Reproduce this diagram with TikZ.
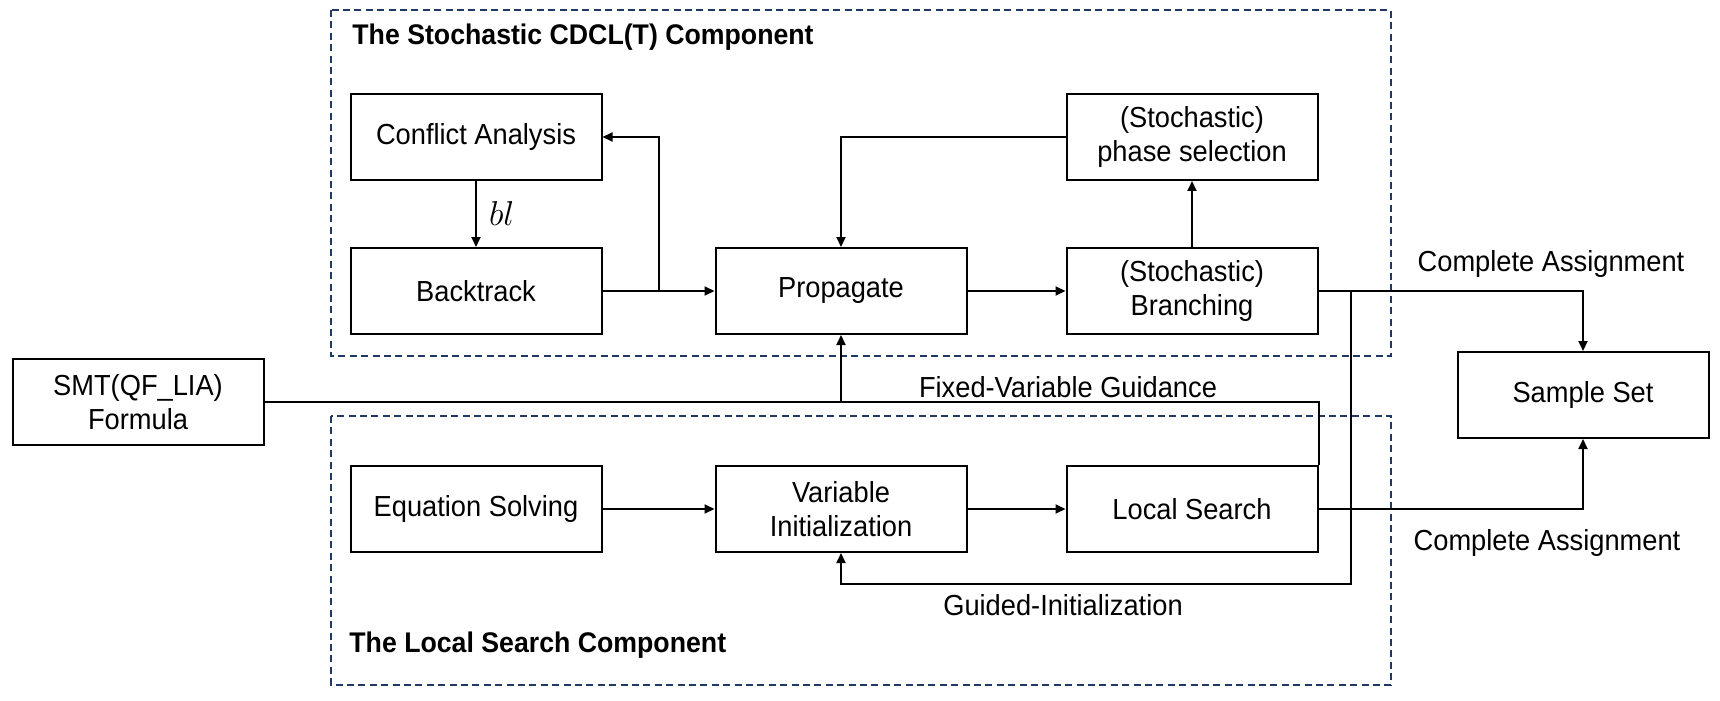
\documentclass[tikz,border=0pt]{standalone}
\usepackage{fontspec}
\setmainfont{Liberation Sans}[FakeStretch=0.94]
\usetikzlibrary{arrows.meta}
\definecolor{navy}{RGB}{31,56,100}
\begin{document}
\begin{tikzpicture}[x=0.5pt,y=-0.5pt,
  font=\fontsize{14.5}{17}\selectfont,
  box/.style={draw,line width=1pt,minimum width=125.5pt,minimum height=43pt,align=center,inner sep=0pt},
  comp/.style={draw=navy,line width=1pt,dash pattern=on 3.5pt off 2.2pt},
  conn/.style={line width=1pt},
  arr/.style={conn,-{Triangle[length=5pt,width=4.5pt]}},
  lbl/.style={inner sep=0pt},
  ttl/.style={inner sep=0pt,anchor=west,font=\fontsize{14.2}{17}\selectfont\bfseries}]
\useasboundingbox (0,0) rectangle (1720,701);
% component frames
\draw[comp] (331,10) rectangle (1391,356);
\draw[comp] (331,416) rectangle (1391,685);
\node[ttl] (t1) at (352,37) {The Stochastic CDCL(T) Component};
\node[ttl] (t2) at (349,645) {The Local Search Component};
% boxes
\node[box] (ca) at (476,137) {Conflict Analysis};
\node[box] (bt) at (476,291) {Backtrack};
\node[box] (pr) at (841,291) {Propagate};
\node[box] (br) at (1192,291) {(Stochastic)\\Branching};
\node[box] (ph) at (1192,137) {(Stochastic)\\phase selection};
\node[box] (smt) at (138,402) {SMT(QF\_LIA)\\Formula};
\node[box] (ss) at (1583,395) {Sample Set};
\node[box] (eq) at (476,509) {Equation Solving};
\node[box] (vi) at (841,509) {Variable\\Initialization};
\node[box] (ls) at (1192,509) {Local Search};
% junctions
\coordinate (j1) at (659,291);
\coordinate (j2) at (1351,291);
\coordinate (j3) at (1351,584);
% connectors
\draw[arr] (ca) -- node[lbl,right=6pt,font=\fontsize{17}{17}\selectfont] {$bl$} (bt);
\draw[arr] (bt) -- (pr);
\draw[arr] (j1) |- (ca.east);
\draw[arr] (ph.west) -| (pr.north);
\draw[arr] (pr) -- (br);
\draw[arr] (br) -- (ph);
\draw[arr] (br.east) -| (ss.north);
\draw[arr] (j2) -- (j3) -| (vi.south);
\draw[arr] (smt.east) -| (pr.south);
\draw[conn] (smt.east) -| (ls.north east);
\draw[arr] (ls.east) -| (ss.south);
\draw[arr] (eq) -- (vi);
\draw[arr] (vi) -- (ls);
% labels
\node[lbl] (la1) at (1551,264) {Complete Assignment};
\node[lbl] (la2) at (1547,543) {Complete Assignment};
\node[lbl] (la3) at (1068,387) {Fixed-Variable Guidance};
\node[lbl] (la4) at (1063,605) {Guided-Initialization};
\end{tikzpicture}
\end{document}
